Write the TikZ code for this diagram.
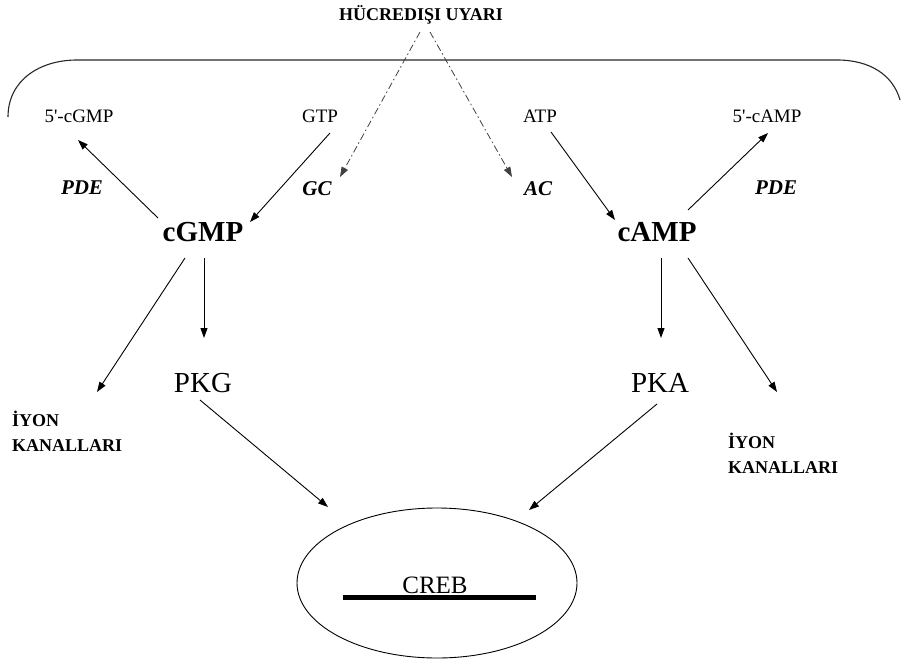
\documentclass[tikz,border=0pt]{standalone}
\usepackage{fontspec}
\setmainfont{Liberation Serif}
\usetikzlibrary{arrows.meta,shapes.geometric,calc}
\tikzset{
  lbl/.style={inner sep=0pt, font=\fontsize{19}{23}\selectfont},
  enz/.style={inner sep=0pt, font=\fontsize{21}{25}\selectfont\bfseries\itshape},
  big/.style={inner sep=0pt, font=\fontsize{29}{34}\selectfont\bfseries},
  kin/.style={inner sep=0pt, font=\fontsize{29}{34}\selectfont},
  ion/.style={inner sep=0pt, anchor=north west, align=left, font=\fontsize{18}{25}\selectfont\bfseries},
  arr/.style={line width=0.9pt, -{Triangle[length=10pt,width=7pt]}},
  stim/.style={line width=0.8pt, gray!50!black, dash pattern=on 7pt off 3pt on 1.5pt off 3pt, -{Triangle[length=10pt,width=7pt]}},
  memb/.style={line width=1.1pt, black!85}
}
\begin{document}
\begin{tikzpicture}[x=1pt,y=-1pt]
\useasboundingbox (0,0) rectangle (901,663);
% membrane
\draw[memb] (8,117) .. controls (8,80) and (40,60) .. (77,60) -- (837,60) .. controls (870,60) and (893,75) .. (900,100);
% nodes
\node[inner sep=0pt, font=\fontsize{18}{21}\selectfont\bfseries] (hu) at (421,15) {HÜCREDIŞI UYARI};
\node[lbl] (c5g) at (79,116) {5\textquotesingle-cGMP};
\node[lbl] (gtp) at (320,116) {GTP};
\node[lbl] (atp) at (540,116) {ATP};
\node[lbl] (c5a) at (767,116) {5\textquotesingle-cAMP};
\node[enz] (pde1) at (82,188) {PDE};
\node[enz] (gc) at (317,189) {GC};
\node[enz] (ac) at (538,189) {AC};
\node[enz] (pde2) at (776,188) {PDE};
\node[big] (cgmp) at (203,232) {cGMP};
\node[big] (camp) at (657,232) {cAMP};
\node[kin] (pkg) at (203,383) {PKG};
\node[kin] (pka) at (660,383) {PKA};
\node[ion] (ion1) at (12,411) {İYON\\KANALLARI};
\node[ion] (ion2) at (728,433) {İYON\\KANALLARI};
\node[draw, ellipse, line width=0.9pt, minimum width=280pt, minimum height=150pt, inner sep=0pt] (creb) at (437,583) {};
\node[inner sep=0pt, font=\fontsize{25}{30}\selectfont] (crebt) at (435,585) {CREB};
\draw[line width=5pt] ($(crebt)+(-92,12)$) -- ($(crebt)+(101,12)$);
% stimulus
\draw[stim] ($(hu)+(-1,17)$) -- ($(gc)+(23,-12)$);
\draw[stim] ($(hu)+(9,17)$) -- ($(ac)+(-26,-12)$);
% arrows
\draw[arr] ($(cgmp)+(-45,-14)$) -- ($(c5g)+(-1,24)$);
\draw[arr] ($(gtp)+(10,17)$) -- ($(cgmp)+(47,-10)$);
\draw[arr] ($(atp)+(11,16)$) -- ($(camp)+(-42,-12)$);
\draw[arr] ($(camp)+(31,-22)$) -- ($(c5a)+(1,17)$);
\draw[arr] ($(cgmp)+(-18,26)$) -- ($(ion1.north west)+(85,-19)$);
\draw[arr] ($(cgmp)+(1,26)$) -- ($(pkg)+(1,-45)$);
\draw[arr] ($(pkg)+(-3,17)$) -- ($(creb)+(-109,-76)$);
\draw[arr] ($(pka)+(-3,21)$) -- ($(creb)+(92,-73)$);
\draw[arr] ($(camp)+(4,26)$) -- ($(pka)+(1,-45)$);
\draw[arr] ($(camp)+(31,26)$) -- ($(ion2.north west)+(49,-41)$);
\end{tikzpicture}
\end{document}
